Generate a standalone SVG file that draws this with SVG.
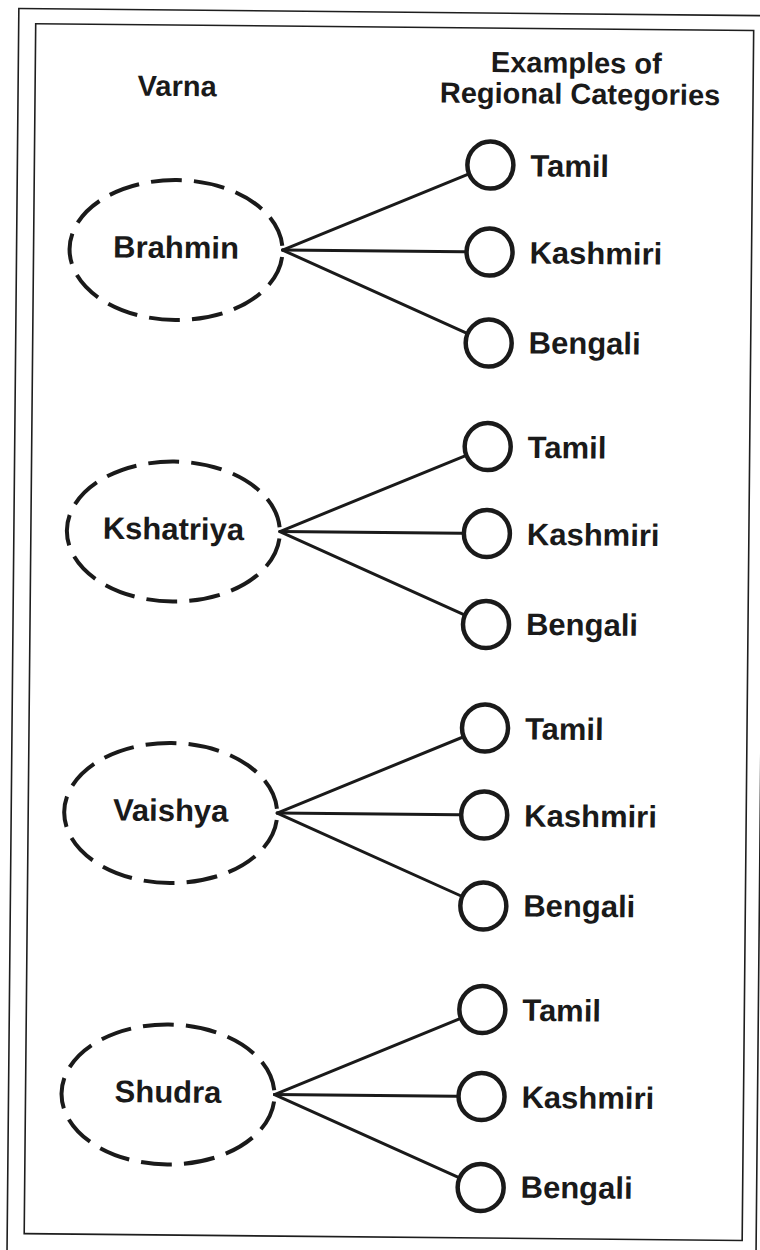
<svg xmlns="http://www.w3.org/2000/svg" width="760" height="1250" viewBox="0 0 760 1250">
<style>
.frame{fill:none;stroke:#1e1e1e;stroke-width:1.6}
.varna{fill:none;stroke:#1a1a1a;stroke-width:4;stroke-dasharray:31 12.1;stroke-dashoffset:37}
.reg{fill:#fff;stroke:#1a1a1a;stroke-width:4.5}
.conn line{stroke:#1a1a1a;stroke-width:3;stroke-linecap:round}
text{font-family:"Liberation Sans",Arial,Helvetica,sans-serif;font-weight:bold;font-size:31px;fill:#1a1a1a}
.hd{font-size:29px}
.mid{text-anchor:middle}
</style>
<rect width="760" height="1250" fill="#fff"/>
<g transform="rotate(0.545 380 625)">
<rect class="frame" x="13" y="12" width="749" height="1245"/>
<rect class="frame" x="30" y="27" width="718" height="1210" stroke-width="2"/>
<g id="header">
<text class="mid hd" x="172" y="98">Varna</text>
<text class="mid hd" x="571" y="71">Examples of</text>
<text class="mid hd" x="575" y="102">Regional Categories</text>
</g>
<g id="connectors" class="conn">
<line x1="279" y1="251" x2="486" y2="164"/>
<line x1="279" y1="251" x2="486" y2="251"/>
<line x1="279" y1="251" x2="486" y2="342"/>
<line x1="279" y1="532.5" x2="486" y2="445.5"/>
<line x1="279" y1="532.5" x2="486" y2="532.5"/>
<line x1="279" y1="532.5" x2="486" y2="623.5"/>
<line x1="279" y1="814" x2="486" y2="727"/>
<line x1="279" y1="814" x2="486" y2="814"/>
<line x1="279" y1="814" x2="486" y2="905"/>
<line x1="279" y1="1095.5" x2="486" y2="1008.5"/>
<line x1="279" y1="1095.5" x2="486" y2="1095.5"/>
<line x1="279" y1="1095.5" x2="486" y2="1186.5"/>
</g>
<g id="brahmin"><ellipse class="varna" cx="172.5" cy="252" rx="106.5" ry="70"/><text class="mid" x="172.5" y="260">Brahmin</text></g>
<g id="kshatriya"><ellipse class="varna" cx="172.5" cy="533.5" rx="106.5" ry="70"/><text class="mid" x="172.5" y="541.5">Kshatriya</text></g>
<g id="vaishya"><ellipse class="varna" cx="172.5" cy="815" rx="106.5" ry="70"/><text class="mid" x="172.5" y="823">Vaishya</text></g>
<g id="shudra"><ellipse class="varna" cx="172.5" cy="1096.5" rx="106.5" ry="70"/><text class="mid" x="172.5" y="1104.5">Shudra</text></g>
<g id="brahmin-tamil"><ellipse class="reg" cx="486" cy="164" rx="23" ry="23.5"/><text x="526" y="175">Tamil</text></g>
<g id="brahmin-kashmiri"><ellipse class="reg" cx="486" cy="251" rx="23" ry="23.5"/><text x="526" y="262">Kashmiri</text></g>
<g id="brahmin-bengali"><ellipse class="reg" cx="486" cy="342" rx="23" ry="23.5"/><text x="526" y="352">Bengali</text></g>
<g id="kshatriya-tamil"><ellipse class="reg" cx="486" cy="445.5" rx="23" ry="23.5"/><text x="526" y="456.5">Tamil</text></g>
<g id="kshatriya-kashmiri"><ellipse class="reg" cx="486" cy="532.5" rx="23" ry="23.5"/><text x="526" y="543.5">Kashmiri</text></g>
<g id="kshatriya-bengali"><ellipse class="reg" cx="486" cy="623.5" rx="23" ry="23.5"/><text x="526" y="633.5">Bengali</text></g>
<g id="vaishya-tamil"><ellipse class="reg" cx="486" cy="727" rx="23" ry="23.5"/><text x="526" y="738">Tamil</text></g>
<g id="vaishya-kashmiri"><ellipse class="reg" cx="486" cy="814" rx="23" ry="23.5"/><text x="526" y="825">Kashmiri</text></g>
<g id="vaishya-bengali"><ellipse class="reg" cx="486" cy="905" rx="23" ry="23.5"/><text x="526" y="915">Bengali</text></g>
<g id="shudra-tamil"><ellipse class="reg" cx="486" cy="1008.5" rx="23" ry="23.5"/><text x="526" y="1019.5">Tamil</text></g>
<g id="shudra-kashmiri"><ellipse class="reg" cx="486" cy="1095.5" rx="23" ry="23.5"/><text x="526" y="1106.5">Kashmiri</text></g>
<g id="shudra-bengali"><ellipse class="reg" cx="486" cy="1186.5" rx="23" ry="23.5"/><text x="526" y="1196.5">Bengali</text></g>
</g>
</svg>
